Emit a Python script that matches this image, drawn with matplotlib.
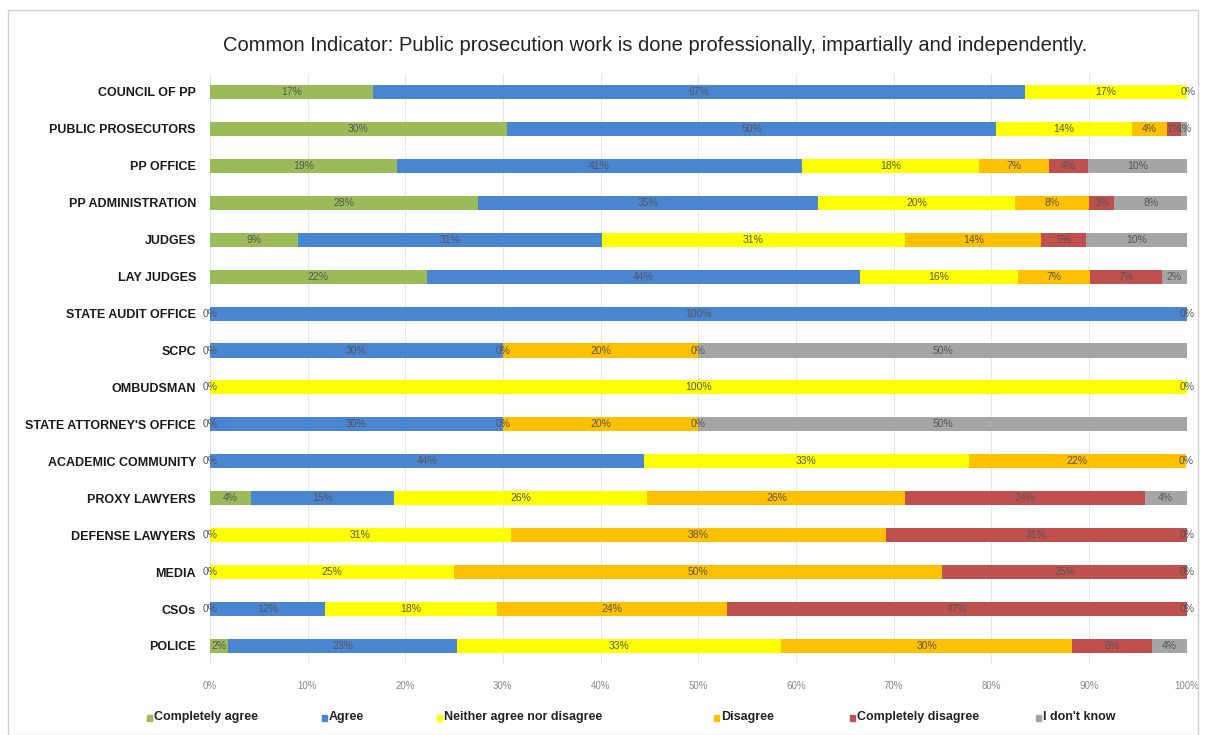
import matplotlib.pyplot as plt
from matplotlib.patches import Rectangle

categories = ["COUNCIL OF PP", "PUBLIC PROSECUTORS", "PP OFFICE", "PP ADMINISTRATION",
              "JUDGES", "LAY JUDGES", "STATE AUDIT OFFICE", "SCPC", "OMBUDSMAN",
              "STATE ATTORNEY'S OFFICE", "ACADEMIC COMMUNITY", "PROXY LAWYERS",
              "DEFENSE LAWYERS", "MEDIA", "CSOs", "POLICE"]

series_names = ["Completely agree", "Agree", "Neither agree nor disagree",
                "Disagree", "Completely disagree", "I don't know"]

completely_agree = [16.7, 30.4, 19.2, 27.5, 9.0, 22.2, 0, 0, 0, 0, 0, 4.2, 0, 0, 0, 1.9]
agree = [66.7, 50.1, 41.4, 34.8, 31.1, 44.4, 100, 30, 0, 30, 44.4, 14.7, 0, 0, 11.8, 23.4]
neither = [16.7, 13.9, 18.1, 20.1, 31.1, 16.1, 0, 0, 100, 0, 33.3, 25.9, 30.8, 25, 17.6, 33.2]
disagree = [0, 3.6, 7.2, 7.6, 13.9, 7.4, 0, 20, 0, 20, 22.2, 26.4, 38.4, 50, 23.5, 29.8]
completely_disagree = [0, 1.4, 4.0, 2.6, 4.6, 7.4, 0, 0, 0, 0, 0, 24.5, 30.8, 25, 47.1, 8.1]
dont_know = [0, 0.6, 10.1, 7.6, 10.3, 2.5, 0, 50, 0, 50, 0, 4.3, 0, 0, 0, 3.6]

series = [completely_agree, agree, neither, disagree, completely_disagree, dont_know]
colors = ['#9BBB59', '#4A85D2', '#FFFF00', '#FFC000', '#C0504D', '#A5A5A5']

plt.rcParams['font.family'] = ['Liberation Sans', 'DejaVu Sans']

fig = plt.figure(figsize=(12.06, 7.35), dpi=100)
ax = fig.add_axes([0.174, 0.096, 0.81, 0.804])

y = list(range(len(categories)))
left = [0.0] * len(categories)
zero_done = set()
for vals, col in zip(series, colors):
    ax.barh(y, vals, left=left, height=0.38, color=col, zorder=2)
    for i, v in enumerate(vals):
        xpos = left[i] + v / 2
        if v == 0:
            # several empty segments share one spot; one label is enough
            key = (round(xpos, 1), i)
            if key in zero_done:
                continue
            zero_done.add(key)
        ax.text(xpos, i, f'{v:.0f}%', ha='center', va='center',
                fontsize=7.5, color='#555555', zorder=3)
    left = [l + v for l, v in zip(left, vals)]

ax.set_xlim(0, 100)
ax.set_ylim(len(categories) - 0.5, -0.5)
ax.set_yticks(y)
ax.set_yticklabels(categories, fontsize=9, fontweight='bold', color='#1a1a1a')
ax.set_xticks(range(0, 101, 10))
ax.set_xticklabels([f'{t}%' for t in range(0, 101, 10)], fontsize=7, color='#8a8a8a')
ax.tick_params(axis='y', length=0, pad=10)
ax.tick_params(axis='x', length=0, pad=12)
ax.grid(axis='x', color='#e6e6e6', linewidth=0.8, zorder=0)
for s in ax.spines.values():
    s.set_visible(False)

fig.text(0.543, 0.938, 'Common Indicator: Public prosecution work is done professionally, impartially and independently.',
         ha='center', va='center', fontsize=14.5, color='#222222')

# legend drawn by hand to keep the uneven spacing of the original
legend_x = [147, 322, 437, 714, 850, 1036]
for name, col, lx in zip(series_names, colors, legend_x):
    fig.add_artist(Rectangle((lx / 1206, 1 - 721 / 735), 5 / 1206, 6 / 735,
                             transform=fig.transFigure, color=col))
    fig.text((lx + 7) / 1206, 1 - 717 / 735, name, ha='left', va='center',
             fontsize=9, fontweight='bold', color='#222222')

fig.add_artist(Rectangle((8 / 1206, 0.0), 1190 / 1206, 1 - 10 / 735, transform=fig.transFigure,
                         fill=False, edgecolor='#d0d0d0', linewidth=1))

fig.savefig('out.png', dpi=100)
